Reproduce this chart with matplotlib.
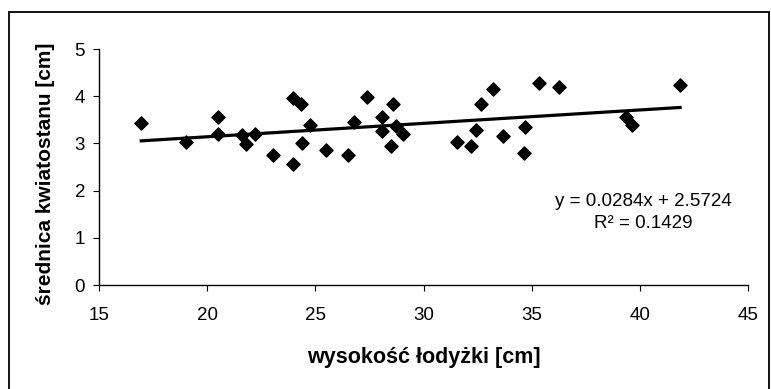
import matplotlib
matplotlib.use("Agg")
import matplotlib.pyplot as plt
from matplotlib.patches import Rectangle

plt.rcParams['font.family'] = ['Liberation Sans', 'DejaVu Sans']

# stem height [cm] vs inflorescence diameter [cm]
heights = [16.95, 19.0, 20.5, 20.5, 21.6, 21.8, 22.2, 23.03, 23.98, 23.98,
           24.34, 24.4, 24.75, 25.48, 26.5, 26.77, 27.38, 28.08, 28.08, 28.61,
           28.51, 28.72, 29.04, 31.57, 32.19, 32.41, 32.64, 33.23, 33.67, 34.64,
           34.71, 35.33, 36.26, 39.38, 39.65, 41.86]
diameters = [3.43, 3.02, 3.55, 3.19, 3.18, 2.98, 3.19, 2.75, 3.96, 2.56,
             3.83, 3.0, 3.40, 2.85, 2.75, 3.45, 3.99, 3.55, 3.26, 3.83,
             2.95, 3.37, 3.19, 3.02, 2.94, 3.28, 3.83, 4.15, 3.15, 2.80,
             3.35, 4.28, 4.19, 3.55, 3.38, 4.24]

slope = 0.0284
intercept = 2.5724
r_squared = 0.1429

W, H = 771, 389
fig = plt.figure(figsize=(W / 100, H / 100), dpi=100)
ax = fig.add_axes([99 / W, 1 - 285 / H, 649 / W, 236 / H])

# outer chart border (bottom edge is cropped in the original)
fig.patches.append(Rectangle((9 / W, -10 / H), 760 / W, (H - 12 + 10) / H,
                             transform=fig.transFigure, fill=False,
                             edgecolor='black', linewidth=1.3, clip_on=False))

ax.scatter(heights, diameters, marker='D', s=45, color='black', zorder=3)

x_line = [min(heights), max(heights)]
y_line = [slope * v + intercept for v in x_line]
ax.plot(x_line, y_line, color='black', linewidth=2.3, zorder=2)

ax.set_xlim(15, 45)
ax.set_ylim(0, 5)
ax.set_xticks(range(15, 46, 5))
ax.set_yticks(range(0, 6))

for side in ['top', 'right']:
    ax.spines[side].set_visible(False)
for side in ['left', 'bottom']:
    ax.spines[side].set_linewidth(1.0)

ax.tick_params(axis='x', direction='out', length=4, pad=12, labelsize=13.5)
ax.tick_params(axis='y', direction='out', length=4, pad=6, labelsize=13.5)

fig.text(643 / W, 1 - 202 / H, f"y = {slope}x + {intercept}",
         ha='center', va='center', fontsize=13.5)
fig.text(643 / W, 1 - 224 / H, f"R² = {r_squared}",
         ha='center', va='center', fontsize=13.5)

fig.text(46 / W, 1 - 174 / H, "średnica kwiatostanu [cm]", rotation=90,
         ha='center', va='center', fontsize=15, fontweight='bold')
fig.text(424 / W, 1 - 357 / H, "wysokość łodyżki [cm]",
         ha='center', va='center', fontsize=15.5, fontweight='bold')

fig.savefig("out.png", dpi=100)
